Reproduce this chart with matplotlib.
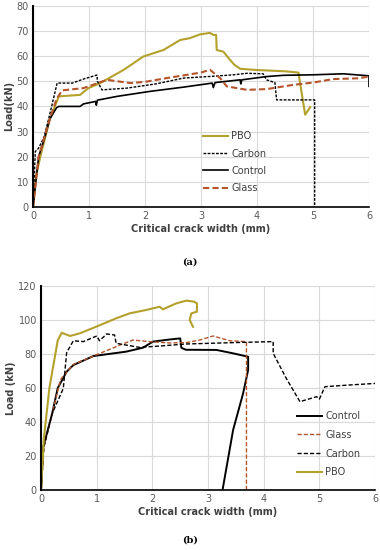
import numpy as np
from matplotlib import pyplot as plt

# ---- panel (a) ----
pbo_a_x = [0, 0.05, 0.13, 0.3, 0.46, 0.84, 0.99, 1.2, 1.62, 1.97, 2.33, 2.63, 2.8, 2.98, 3.16, 3.22, 3.27, 3.28, 3.4, 3.52, 3.6, 3.7, 4.0, 4.5, 4.74, 4.86, 4.95]
pbo_a_y = [0, 12, 20, 35, 44, 44.6, 47.3, 49.3, 54.6, 59.9, 62.5, 66.5, 67.2, 68.7, 69.3, 68.5, 68.5, 62.5, 61.8, 58.5, 56.5, 55, 54.5, 54, 53.5, 36.7, 39.7]

carbon_a_x = [0, 0.04, 0.1, 0.2, 0.3, 0.43, 0.7, 0.9, 1.14, 1.15, 1.23, 1.68, 2.2, 2.69, 3.2, 3.58, 3.82, 4.11, 4.17, 4.32, 4.35, 5.03, 5.03]
carbon_a_y = [0, 22, 23.4, 28, 37, 49.3, 49.3, 50.9, 52.5, 50, 46.6, 47.3, 49, 51.3, 52, 52.6, 53.2, 53, 50.6, 49.5, 42.6, 42.6, 0]

control_a_x = [0, 0.1, 0.2, 0.3, 0.42, 0.46, 0.84, 0.9, 1.12, 1.13, 1.15, 1.5, 2.09, 2.69, 3.2, 3.22, 3.25, 3.7, 3.71, 3.73, 4.17, 4.47, 5.0, 5.54, 6.0, 6.0]
control_a_y = [0, 20, 27, 35, 39.5, 40, 40, 41, 42, 40.5, 42.5, 44, 46, 47.7, 49.3, 47.5, 49.5, 50.6, 49, 50.6, 51.9, 52.4, 52.6, 53, 52.2, 48]

glass_a_x = [0, 0.1, 0.3, 0.42, 0.52, 0.9, 1.32, 1.74, 2.0, 2.39, 2.75, 3.0, 3.16, 3.34, 3.46, 3.82, 4.17, 4.65, 5.0, 5.36, 5.8, 6.0]
glass_a_y = [0, 20, 35, 43, 46.4, 47.3, 50.6, 49.3, 49.8, 51.3, 52.6, 53.5, 54.6, 51.3, 48, 46.6, 46.9, 48.6, 49.5, 50.9, 51.2, 51.9]

# ---- panel (b) ----
control_b_x = [0, 0.04, 0.2, 0.3, 0.46, 0.58, 0.94, 1.53, 1.83, 2.01, 2.3, 2.5, 2.52, 2.6, 3.15, 3.45, 3.72, 3.72, 3.63, 3.45, 3.26]
control_b_y = [0, 25.5, 45, 60, 69.6, 73.5, 78.8, 81.4, 83.7, 87.3, 88.5, 89.2, 83.7, 82.5, 82.4, 80.4, 78.4, 70.6, 56.9, 35.3, 0]

glass_b_x = [0, 0.05, 0.2, 0.35, 0.58, 1.06, 1.42, 1.65, 1.95, 2.3, 2.61, 2.85, 3.09, 3.39, 3.69, 3.69]
glass_b_y = [0, 25, 45, 65, 73.9, 80.4, 85.3, 88.2, 87.3, 86.5, 86.7, 88.2, 90.6, 87.8, 87.3, 0]

carbon_b_x = [0, 0.05, 0.2, 0.4, 0.46, 0.58, 0.76, 1.0, 1.05, 1.18, 1.32, 1.35, 1.77, 2.13, 2.61, 3.45, 4.17, 4.17, 4.4, 4.65, 4.95, 5.0, 5.1, 5.55, 6.0]
carbon_b_y = [0, 25, 45, 59.8, 80.8, 87.8, 87.3, 90.6, 87.8, 91.8, 91.2, 86.3, 83.9, 84.7, 85.9, 86.7, 87.3, 80.4, 66, 52, 54.9, 53.5, 60.8, 61.8, 62.7]

pbo_b_x = [0, 0.05, 0.15, 0.3, 0.37, 0.52, 0.7, 1.06, 1.35, 1.59, 1.89, 2.13, 2.19, 2.43, 2.61, 2.75, 2.8, 2.8, 2.7, 2.67, 2.73]
pbo_b_y = [0, 30, 60, 88, 92.5, 90.6, 92.2, 97, 101, 103.9, 105.9, 107.8, 106.3, 109.8, 111.4, 110.8, 109.8, 104.9, 103.9, 100, 96]

pbo_col = '#B4A12C'
glass_col = '#B5542A'

fig = plt.figure(figsize=(3.8, 5.5), dpi=100)
ax1 = fig.add_axes([0.087, 0.624, 0.884, 0.365])
ax2 = fig.add_axes([0.108, 0.109, 0.879, 0.371])

def style(ax, ymax, ystep, ylabel):
    ax.set_xlim(0, 6)
    ax.set_ylim(0, ymax)
    ax.set_xticks(np.arange(0, 7, 1))
    ax.set_yticks(np.arange(0, ymax + 1, ystep))
    ax.grid(True, color='#D9D9D9', linewidth=0.8)
    ax.set_axisbelow(True)
    for s in ['top', 'right']:
        ax.spines[s].set_visible(False)
    ax.spines['left'].set_linewidth(1.5)
    ax.spines['bottom'].set_linewidth(1.2)
    ax.tick_params(length=0, labelsize=7, labelcolor='#595959', pad=3)
    ax.set_xlabel('Critical crack width (mm)', fontsize=7, fontweight='bold', color='#404040', labelpad=2)
    ax.set_ylabel(ylabel, fontsize=7, fontweight='bold', color='#404040', labelpad=2)

ax1.plot(pbo_a_x, pbo_a_y, color=pbo_col, lw=1.5, label='PBO')
ax1.plot(carbon_a_x, carbon_a_y, color='black', lw=1.0, ls=(0, (2, 1)), label='Carbon')
ax1.plot(control_a_x, control_a_y, color='black', lw=1.2, label='Control')
ax1.plot(glass_a_x, glass_a_y, color=glass_col, lw=1.5, ls=(0, (3, 1.5)), label='Glass')
style(ax1, 80, 10, 'Load(kN)')
ax1.legend(loc='upper left', bbox_to_anchor=(0.48, 0.42), frameon=False, fontsize=7,
           handlelength=2.6, labelspacing=0.75, handletextpad=0.3, labelcolor='#404040')

ax2.plot(control_b_x, control_b_y, color='black', lw=1.4, label='Control')
ax2.plot(glass_b_x, glass_b_y, color=glass_col, lw=1.0, ls=(0, (3, 1.5)), label='Glass')
ax2.plot(carbon_b_x, carbon_b_y, color='black', lw=1.0, ls=(0, (3, 1.5)), label='Carbon')
ax2.plot(pbo_b_x, pbo_b_y, color=pbo_col, lw=1.5, label='PBO')
style(ax2, 120, 20, 'Load (kN)')
ax2.legend(loc='upper left', bbox_to_anchor=(0.74, 0.43), frameon=False, fontsize=7,
           handlelength=2.6, labelspacing=0.9, handletextpad=0.3, labelcolor='#404040')

fig.text(0.5, 1 - 262 / 550, '(a)', ha='center', va='center', fontsize=7, fontweight='bold', family='DejaVu Serif')
fig.text(0.5, 1 - 540 / 550, '(b)', ha='center', va='center', fontsize=7, fontweight='bold', family='DejaVu Serif')

fig.savefig('out.png', dpi=100)
